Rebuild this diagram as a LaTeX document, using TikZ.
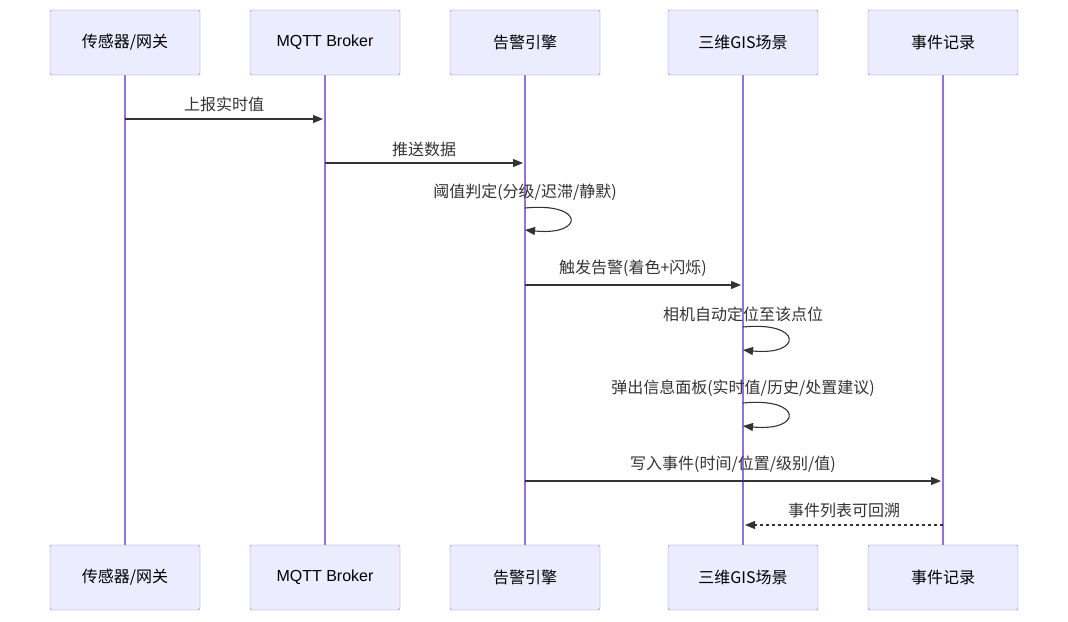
\documentclass[tikz,border=0pt]{standalone}
\usepackage{fontspec}
\setmainfont{Liberation Sans}
\newfontfamily\cjk{Noto Sans CJK SC}
\usetikzlibrary{arrows.meta}
\definecolor{boxfill}{HTML}{ECECFF}
\definecolor{boxline}{HTML}{9370DB}
\definecolor{ink}{HTML}{333333}
\begin{document}
\begin{tikzpicture}[x=1pt,y=-1pt,
  actor/.style={draw=boxline,fill=boxfill,rounded corners=2pt,minimum width=150pt,minimum height=65pt,inner sep=0pt,font=\cjk\fontsize{16}{19}\selectfont,text=black},
  life/.style={draw=boxline,line width=1.2pt},
  msg/.style={draw=ink,line width=1.1pt,-{Triangle[length=10pt,width=8pt]}},
  lbl/.style={font=\cjk\fontsize{16}{19}\selectfont,text=ink,inner sep=0pt}]
\useasboundingbox (0,0) rectangle (1068,621);
\foreach \n/\x/\t in {a/125/传感器\slash 网关,b/325/{\fontspec{Liberation Sans}MQTT Broker},c/525/告警引擎,d/743/三维GIS场景,e/943/事件记录}{
  \coordinate (\n t) at (\x,75);
  \coordinate (\n b) at (\x,545);
  \draw[life] (\n t) -- (\n b);
  \node[actor] (\n top) at (\x,42.5) {\t};
  \node[actor] (\n bot) at (\x,577.5) {\t};
}
% messages
\coordinate (a1) at (125,119); \coordinate (b1) at (323,119);
\draw[msg] (a1) -- (b1); \node[lbl] (l1) at (224,104) {上报实时值};
\coordinate (b2) at (325,163); \coordinate (c2) at (523,163);
\draw[msg] (b2) -- (c2); \node[lbl] (l2) at (424,149) {推送数据};
\coordinate (c3) at (525,208); \coordinate (c3e) at (525,230);
\draw[msg] (c3) .. controls (585,202) and (585,236) .. (c3e);
\node[lbl] (l3) at (525,192) {阈值判定(分级/迟滞/静默)};
\coordinate (c4) at (525,285); \coordinate (d4) at (741,285);
\draw[msg] (c4) -- (d4); \node[lbl] (l4) at (633,268) {触发告警(着色+闪烁)};
\coordinate (d5) at (743,327); \coordinate (d5e) at (743,350);
\draw[msg] (d5) .. controls (803,321) and (803,356) .. (d5e);
\node[lbl] (l5) at (743,314) {相机自动定位至该点位};
\coordinate (d6) at (743,403); \coordinate (d6e) at (743,426);
\draw[msg] (d6) .. controls (803,397) and (803,432) .. (d6e);
\node[lbl] (l6) at (743,388) {弹出信息面板(实时值/历史/处置建议)};
\coordinate (c7) at (525,481); \coordinate (e7) at (941,481);
\draw[msg] (c7) -- (e7); \node[lbl] (l7) at (733,464) {写入事件(时间/位置/级别/值)};
\coordinate (e8) at (943,525); \coordinate (d8) at (745,525);
\draw[msg,dashed,dash pattern=on 3pt off 3pt] (e8) -- (d8); \node[lbl] (l8) at (844,510) {事件列表可回溯};
\end{tikzpicture}
\end{document}
